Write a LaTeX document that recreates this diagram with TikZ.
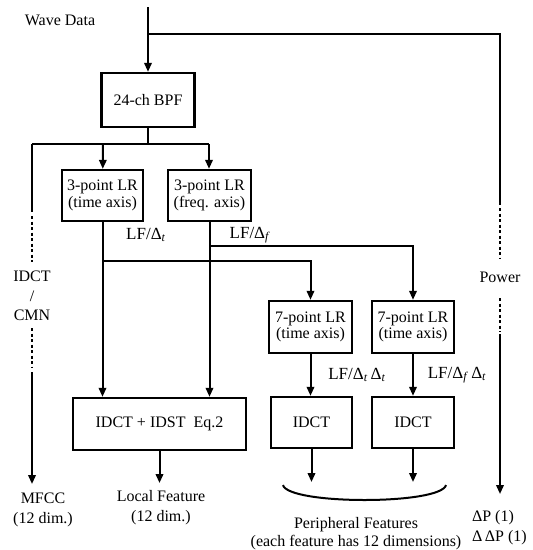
\documentclass[tikz,border=0pt]{standalone}
\usepackage{fontspec}
\setmainfont{Liberation Serif}
\usetikzlibrary{arrows.meta,positioning}
\newcommand{\sub}[1]{\textsubscript{\textit{#1}}}

\begin{document}
\begin{tikzpicture}[x=1pt,y=-1pt,>={Triangle[length=9pt,width=7.5pt]},line width=2pt,
 every node/.style={font=\fontsize{16}{16.5}\selectfont},
 block/.style={draw,line width=2.4pt,align=center,inner sep=0pt},
 lbl/.style={align=center,inner sep=0pt},
 broken/.style={dash pattern=on 3pt off 2.5pt}]
\useasboundingbox (0,0) rectangle (533,550);
\node[lbl] (wave) at (60,20) {Wave Data};
\node[block,minimum width=93pt,minimum height=54pt] (bpf) at (148,100) {24-ch BPF};
\node[block,minimum width=81pt,minimum height=51pt] (tlr) at (102.5,195.5) {3-point LR\\(time axis)};
\node[block,minimum width=83pt,minimum height=51pt] (flr) at (209.5,195.5) {3-point LR\\(freq. axis)};
\node[block,minimum width=83pt,minimum height=52pt] (slr1) at (310.5,327) {7-point LR\\(time axis)};
\node[block,minimum width=82pt,minimum height=52pt] (slr2) at (413,327) {7-point LR\\(time axis)};
\node[block,minimum width=173pt,minimum height=52pt] (local) at (159.5,424) {IDCT + IDST~~Eq.2};
\node[block,minimum width=81pt,minimum height=51pt] (idct1) at (311.5,422.5) {IDCT};
\node[block,minimum width=82pt,minimum height=51pt] (idct2) at (413,422.5) {IDCT};
\node[lbl,font=\fontsize{17}{18}\selectfont] (lft) at (146,235) {LF/Δ\sub{t}};
\node[lbl,font=\fontsize{17}{18}\selectfont] (lff) at (250,235) {LF/Δ\sub{f}};
\node[lbl,font=\fontsize{17}{18}\selectfont] (lftt) at (357,375) {LF/Δ\sub{t}\,Δ\sub{t}};
\node[lbl,font=\fontsize{17}{18}\selectfont] (lfft) at (457,375) {LF/Δ\sub{f}\,Δ\sub{t}};
\node[lbl,font=\fontsize{16}{19.5}\selectfont] (cmn) at (32,296) {IDCT\\/\\CMN};
\node[lbl] (power) at (500,277) {Power};
\node[lbl,font=\fontsize{16}{20}\selectfont] (mfcc) at (43,510) {MFCC\\(12 dim.)};
\node[lbl,font=\fontsize{16}{20}\selectfont] (lfeat) at (161,508) {Local Feature\\(12 dim.)};
\node[lbl,font=\fontsize{16}{18}\selectfont] (pfeat) at (356,534) {Peripheral Features\\(each feature has 12 dimensions)};
\node[lbl,align=left,anchor=west,font=\fontsize{16}{20}\selectfont] (dpow) at (471,528) {ΔP (1)\\Δ\,ΔP (1)};
\coordinate (in) at (148,7);
\coordinate (wsplit) at (148,34);
\coordinate (pcorner) at (500,34);
\coordinate (bsplit) at (148,144);
\coordinate (lsplit) at (32,144);
\coordinate (rsplit) at (209,144);
\coordinate (tsplit) at (103,144);
\coordinate (tj) at (103,261);
\coordinate (fj) at (209,246);
\coordinate (mout) at (32,484);
\coordinate (pout) at (500,494);
\draw[->] (in) -- (bpf);
\draw (wsplit) -- (pcorner) -- (500,205);
\draw[broken] (500,208) -- (500,258);
\draw[broken] (500,298) -- (500,332);
\draw[->] (500,334) -- (pout);
\draw (bpf) -- (bsplit);
\draw (lsplit) -- (rsplit);
\draw[->] (tsplit) -- (tlr);
\draw[->] (rsplit) -- (rsplit |- flr.north);
\draw (lsplit) -- (32,212);
\draw[broken] (32,216) -- (32,262);
\draw[broken] (32,328) -- (32,368);
\draw[->] (32,372) -- (mout);
\draw[->] (tlr.south) -- (tlr.south |- local.north);
\draw[->] (flr.south) -- (flr.south |- local.north);
\draw[->] (tj) -| (slr1);
\draw[->] (fj) -| (slr2);
\draw[->] (slr1.south) -- (slr1.south |- idct1.north);
\draw[->] (slr2) -- (idct2);
\draw[->] (local) -- (local |- 0,483);
\draw[->] (idct1.south) -- (idct1.south |- 0,482);
\draw[->] (idct2) -- (idct2 |- 0,482);
\draw (283,485) .. controls (288,505) and (441,505) .. (446,485);
\end{tikzpicture}
\end{document}
